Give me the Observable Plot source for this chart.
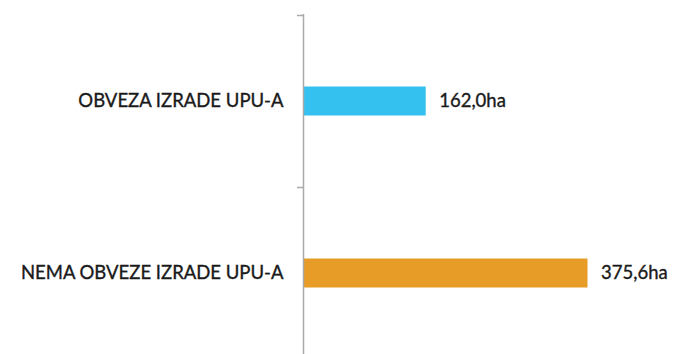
<!DOCTYPE html>
<html>
<head>
<meta charset="utf-8">
<script src="https://cdn.jsdelivr.net/npm/d3@7"></script>
<script src="https://cdn.jsdelivr.net/npm/@observablehq/plot@0.6"></script>
<style>
  html, body { margin: 0; padding: 0; background: #fff; overflow: hidden; }
  svg text { paint-order: stroke; stroke: #1a1a1a; stroke-width: 0.35px; }
</style>
</head>
<body>
<div id="chart"></div>
<script>
const categories = ["OBVEZA IZRADE UPU-A", "NEMA OBVEZE IZRADE UPU-A"];
const values = [162.0, 375.6];
const valueLabels = ["162,0ha", "375,6ha"];
const colors = ["#35C1EF", "#E69C26"];

const data = categories.map((c, i) => ({cat: c, value: values[i], label: valueLabels[i], color: colors[i]}));

const chart = Plot.plot({
  width: 680,
  height: 354,
  marginTop: 14,
  marginBottom: 0,
  marginLeft: 303,
  marginRight: 74,
  style: {fontFamily: "Lato, 'Open Sans', sans-serif", fontSize: "18.5px", color: "#1a1a1a", background: "#fff"},
  x: {domain: [0, 400], range: [303, 606], axis: null},
  y: {domain: categories, range: [15, 359], padding: 0, label: null},
  marks: [
    Plot.barX(data, {x: "value", y: "cat", fill: "color", insetTop: 71.5, insetBottom: 71.5}),
    Plot.axisY({tickSize: 0, tickPadding: 20, fontSize: 18.5, fill: "#1a1a1a", label: null}),
    Plot.ruleX([0], {stroke: "#aaa", strokeWidth: 1.5}),
    Plot.ruleY(data, {y: "cat", x1: -8, x2: 0, dy: -86, stroke: "#aaa", strokeWidth: 1.5}),
    Plot.text(data, {x: "value", y: "cat", text: "label", textAnchor: "start", dx: 13, fontSize: 18.5, fill: "#1a1a1a"})
  ]
});
document.getElementById("chart").appendChild(chart);
</script>
</body>
</html>
